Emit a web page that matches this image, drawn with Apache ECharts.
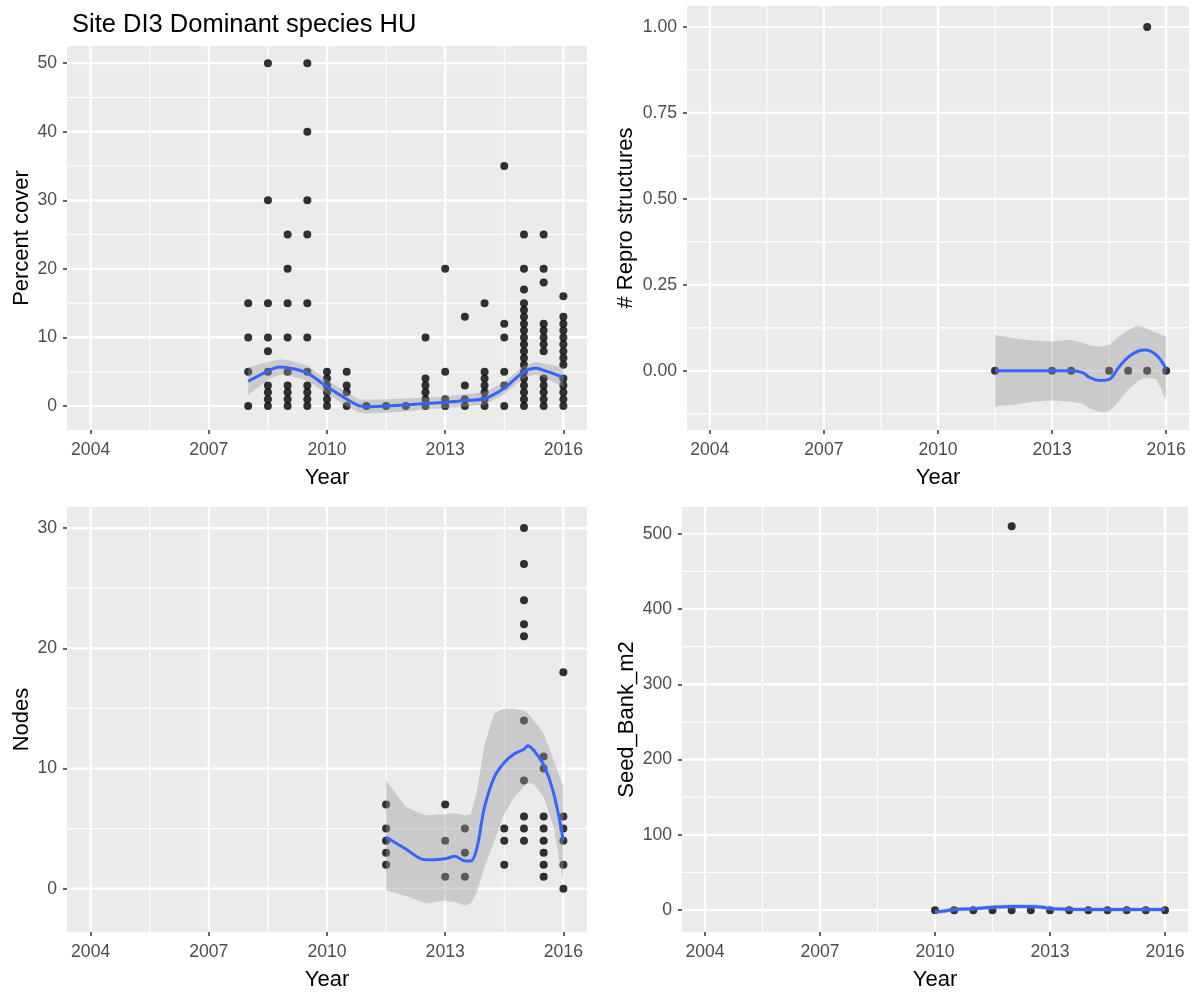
<!DOCTYPE html>
<html>
<head>
<meta charset="utf-8">
<script src="https://cdn.jsdelivr.net/npm/echarts@6/dist/echarts.min.js"></script>
<style>
  html, body { margin: 0; padding: 0; background: #ffffff; }
  #chart { width: 1197px; height: 994px; }
</style>
</head>
<body>
<div id="chart"></div>
<script>
// ---- tick labels ----
const yearTicks  = [2004, 2007, 2010, 2013, 2016];
const coverTicks = [0, 10, 20, 30, 40, 50];
const reproTicks = [0, 0.25, 0.5, 0.75, 1];
const nodeTicks  = [0, 10, 20, 30];
const seedTicks  = [0, 100, 200, 300, 400, 500];

// ---- Percent cover, observations grouped by survey date ----
const coverYears = [2008, 2008.5, 2009, 2009.5, 2010, 2010.5, 2011, 2011.5, 2012,
                    2012.5, 2013, 2013.5, 2014, 2014.5, 2015, 2015.5, 2016];
const coverValues = [
  [0, 5, 10, 15],
  [0, 1, 2, 3, 5, 8, 10, 15, 30, 50],
  [0, 1, 2, 3, 5, 10, 15, 20, 25],
  [0, 1, 2, 3, 5, 10, 15, 25, 30, 40, 50],
  [0, 1, 2, 3, 4, 5],
  [0, 2, 3, 5],
  [0],
  [0],
  [0],
  [0, 1, 2, 3, 4, 10],
  [0, 1, 5, 20],
  [0, 1, 3, 13],
  [0, 1, 2, 3, 4, 5, 15],
  [0, 3, 5, 10, 12, 35],
  [0, 1, 2, 3, 4, 5, 6, 7, 8, 9, 10, 11, 12, 13, 14, 15, 17, 20, 25],
  [0, 1, 2, 3, 4, 8, 9, 10, 11, 12, 18, 20, 25],
  [0, 1, 2, 3, 4, 6, 7, 8, 9, 10, 11, 12, 13, 16]
];
// loess fit and its confidence band
const coverFitX  = [2008, 2008.5, 2008.8, 2009, 2009.5, 2010, 2010.5, 2010.8, 2011, 2011.5,
                    2012, 2012.5, 2013, 2013.5, 2014, 2014.5, 2015, 2015.3, 2015.5, 2016];
const coverFitY  = [3.6, 5.1, 5.7, 5.6, 4.8, 2.8, 1.0, 0.05, -0.1, 0.0,
                    0.15, 0.35, 0.55, 0.8, 1.1, 2.6, 5.0, 5.5, 5.2, 4.2];
const coverFitLo = [1.6, 3.8, 4.6, 4.5, 3.7, 1.8, 0.0, -0.9, -1.1, -1.0,
                    -0.8, -0.5, -0.3, -0.1, 0.2, 1.7, 4.1, 4.6, 4.2, 2.8];
const coverFitHi = [5.6, 6.4, 6.8, 6.7, 5.9, 3.8, 2.0, 1.0, 0.9, 1.0,
                    1.1, 1.2, 1.4, 1.7, 2.0, 3.5, 5.9, 6.4, 6.2, 5.6];

// ---- # Repro structures ----
const reproYears  = [2011.5, 2013, 2013.5, 2014.5, 2015, 2015.5, 2016];
const reproValues = [[0], [0], [0], [0], [0], [0, 1], [0]];
const reproFitX  = [2011.5, 2012, 2012.5, 2013, 2013.5, 2013.8, 2014, 2014.25, 2014.5,
                    2014.75, 2015, 2015.25, 2015.45, 2015.75, 2016];
const reproFitY  = [0, 0, 0, 0, 0, -0.005, -0.02, -0.028, -0.025,
                    0.01, 0.04, 0.057, 0.061, 0.045, 0.005];
const reproFitLo = [-0.104, -0.098, -0.09, -0.086, -0.09, -0.095, -0.11, -0.12, -0.118,
                    -0.09, -0.055, -0.03, -0.02, -0.025, -0.085];
const reproFitHi = [0.104, 0.095, 0.088, 0.086, 0.09, 0.082, 0.074, 0.07, 0.075,
                    0.10, 0.118, 0.132, 0.125, 0.11, 0.10];

// ---- Nodes ----
const nodeYears  = [2011.5, 2013, 2013.5, 2014.5, 2015, 2015.5, 2016];
const nodeValues = [
  [2, 3, 4, 5, 7],
  [1, 4, 7],
  [1, 3, 5],
  [2, 4, 5],
  [4, 5, 6, 9, 14, 21, 22, 24, 27, 30],
  [1, 2, 3, 4, 5, 6, 10, 11],
  [0, 2, 4, 5, 6, 18]
];
const nodeFitX  = [2011.5, 2012, 2012.5, 2013, 2013.25, 2013.5, 2013.65, 2013.8, 2014,
                   2014.25, 2014.5, 2014.75, 2015, 2015.1, 2015.25, 2015.5, 2015.75, 2016];
const nodeFitY  = [4.3, 3.3, 2.4, 2.5, 2.7, 2.3, 2.3, 3.3, 6.8,
                   9.3, 10.5, 11.2, 11.6, 11.9, 11.5, 10.3, 8.0, 4.0];
const nodeFitLo = [-0.1, -0.6, -1.2, -1.0, -1.1, -1.4, -1.2, -0.3, 1.8,
                   4.0, 6.2, 7.6, 8.5, 8.8, 8.7, 7.6, 5.2, 0.5];
const nodeFitHi = [9.0, 6.8, 6.1, 6.2, 6.3, 6.1, 6.2, 8.0, 12.0,
                   14.6, 15.0, 15.0, 14.8, 14.6, 14.0, 12.9, 10.7, 8.5];

// ---- Seed bank per m2 ----
const seedYears  = [2010, 2010.5, 2011, 2011.5, 2012, 2012.5, 2013, 2013.5,
                    2014, 2014.5, 2015, 2015.5, 2016];
const seedValues = [[0], [0], [0], [0], [0, 510], [0], [0], [0], [0], [0], [0], [0], [0]];
const seedFitX  = [2010, 2010.25, 2010.5, 2011, 2011.5, 2012, 2012.5, 2012.8, 2013, 2014, 2015, 2016];
const seedFitY  = [-2, -1, 1, 2, 4, 5, 5, 4, 2, 1, 1, 1];
const seedFitLo = [-5, -4, -2, -1, 1, 2, 2, 1, -1, -2, -2, -2];
const seedFitHi = [1, 2, 4, 5, 7, 8, 8, 7, 5, 4, 4, 4];

// ---- helpers ----
const FONT = "'Liberation Sans', Arial, Helvetica, sans-serif";
const X_RANGE = [2003.4, 2016.6];

function points(years, values) {
  const out = [];
  years.forEach((x, i) => values[i].forEach(v => out.push([x, v])));
  return out;
}
function pairs(xs, ys) { return xs.map((x, i) => [x, ys[i]]); }
function minorsOf(ticks, range) {
  const step = ticks[1] - ticks[0];
  const out = [];
  for (let i = -1; i < ticks.length; i++) {
    const m = ticks[0] + step * (i + 0.5);
    if (m > range[0] && m < range[1]) out.push(m);
  }
  return out;
}

const panels = [
  { grid: { left: 67, top: 46, width: 520, height: 384 }, yRange: [-3.5, 52.5],
    yTicks: coverTicks, yName: 'Percent cover', nameGap: 34, dec: 0,
    years: coverYears, values: coverValues,
    fx: coverFitX, fy: coverFitY, flo: coverFitLo, fhi: coverFitHi },
  { grid: { left: 687, top: 6, width: 502, height: 424 }, yRange: [-0.172, 1.061],
    yTicks: reproTicks, yName: '# Repro structures', nameGap: 50, dec: 2,
    years: reproYears, values: reproValues,
    fx: reproFitX, fy: reproFitY, flo: reproFitLo, fhi: reproFitHi },
  { grid: { left: 67, top: 507, width: 520, height: 425 }, yRange: [-3.6, 31.75],
    yTicks: nodeTicks, yName: 'Nodes', nameGap: 34, dec: 0,
    years: nodeYears, values: nodeValues,
    fx: nodeFitX, fy: nodeFitY, flo: nodeFitLo, fhi: nodeFitHi },
  { grid: { left: 682, top: 507, width: 506, height: 425 }, yRange: [-29, 535.5],
    yTicks: seedTicks, yName: 'Seed_Bank_m2', nameGap: 44, dec: 0,
    years: seedYears, values: seedValues,
    fx: seedFitX, fy: seedFitY, flo: seedFitLo, fhi: seedFitHi }
];

const grids = [], xAxes = [], yAxes = [], series = [];

panels.forEach((p, i) => {
  grids.push(Object.assign({ show: true, backgroundColor: '#EBEBEB', borderWidth: 0 }, p.grid));

  xAxes.push({
    gridIndex: i, type: 'value', min: X_RANGE[0], max: X_RANGE[1],
    splitLine: { show: false }, axisLine: { show: false, onZero: false },
    axisTick: { show: true, customValues: yearTicks, length: 4,
                lineStyle: { color: '#333333', width: 1.5 } },
    axisLabel: { customValues: yearTicks, color: '#4D4D4D', fontSize: 17.6,
                 fontFamily: FONT, margin: 11, formatter: v => String(v) },
    name: 'Year', nameLocation: 'middle', nameGap: 37,
    nameTextStyle: { color: '#000000', fontSize: 22, fontFamily: FONT }
  });

  yAxes.push({
    gridIndex: i, type: 'value', min: p.yRange[0], max: p.yRange[1],
    splitLine: { show: false }, axisLine: { show: false, onZero: false },
    axisTick: { show: true, customValues: p.yTicks, length: 4,
                lineStyle: { color: '#333333', width: 1.5 } },
    axisLabel: { customValues: p.yTicks, color: '#4D4D4D', fontSize: 17.6,
                 fontFamily: FONT, margin: 10,
                 formatter: v => Number(v).toFixed(p.dec) },
    name: p.yName, nameLocation: 'middle', nameGap: p.nameGap,
    nameTextStyle: { color: '#000000', fontSize: 22, fontFamily: FONT }
  });

  // white panel grid: major and minor lines in both directions
  const lines = [];
  minorsOf(yearTicks, X_RANGE).forEach(v => lines.push([v, 0, 0]));
  minorsOf(p.yTicks, p.yRange).forEach(v => lines.push([v, 1, 0]));
  yearTicks.forEach(v => lines.push([v, 0, 1]));
  p.yTicks.forEach(v => lines.push([v, 1, 1]));
  series.push({
    type: 'custom', xAxisIndex: i, yAxisIndex: i, silent: true, z: 1,
    animation: false, clip: true,
    data: lines,
    renderItem: (params, api) => {
      const v = api.value(0), kind = api.value(1), major = api.value(2);
      const cs = params.coordSys;
      let shape;
      if (kind === 0) {
        const px = api.coord([v, p.yRange[0]])[0];
        shape = { x1: px, y1: cs.y, x2: px, y2: cs.y + cs.height };
      } else {
        const py = api.coord([X_RANGE[0], v])[1];
        shape = { x1: cs.x, y1: py, x2: cs.x + cs.width, y2: py };
      }
      return { type: 'line', shape,
               style: { stroke: '#FFFFFF', lineWidth: major ? 2.2 : 1.1 } };
    }
  });

  // observations
  series.push({
    type: 'scatter', xAxisIndex: i, yAxisIndex: i, z: 2, animation: false,
    symbol: 'circle', symbolSize: 8, itemStyle: { color: '#000000' },
    data: points(p.years, p.values)
  });

  // confidence band of the fit
  series.push({
    type: 'custom', xAxisIndex: i, yAxisIndex: i, silent: true, z: 3,
    animation: false,
    data: p.fx.map((x, k) => [x, p.flo[k], p.fhi[k]]),
    encode: { x: 0, y: [1, 2] },
    renderItem: (params, api) => {
      if (params.dataIndex !== 0) return null;
      const pts = [];
      p.fx.forEach((x, k) => pts.push(api.coord([x, p.fhi[k]])));
      for (let k = p.fx.length - 1; k >= 0; k--) pts.push(api.coord([p.fx[k], p.flo[k]]));
      return { type: 'polygon', shape: { points: pts },
               style: { fill: 'rgba(153,153,153,0.4)', stroke: null } };
    }
  });

  // fitted curve
  series.push({
    type: 'line', xAxisIndex: i, yAxisIndex: i, z: 4, animation: false,
    smooth: 0.35, showSymbol: false, symbol: 'none',
    lineStyle: { color: '#3366FF', width: 3 },
    data: pairs(p.fx, p.fy)
  });
});

const chart = echarts.init(document.getElementById('chart'), null, { renderer: 'canvas' });
chart.setOption({
  backgroundColor: '#FFFFFF',
  animation: false,
  title: {
    text: 'Site DI3 Dominant species HU', left: 67, top: 7,
    textStyle: { color: '#000000', fontSize: 25.5, fontWeight: 'normal', fontFamily: FONT }
  },
  grid: grids,
  xAxis: xAxes,
  yAxis: yAxes,
  series: series
});
</script>
</body>
</html>
